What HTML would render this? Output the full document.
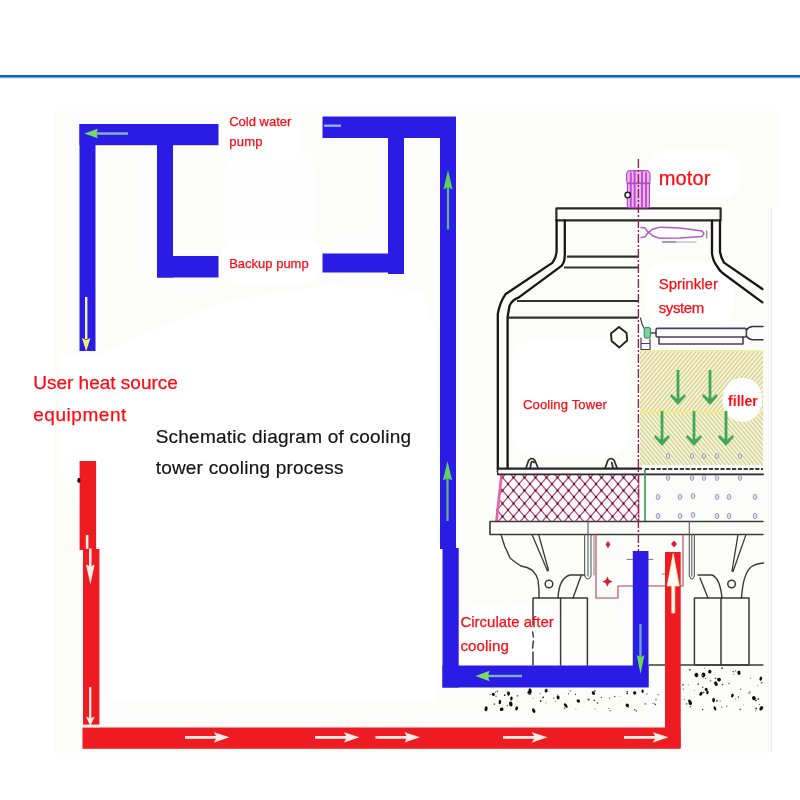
<!DOCTYPE html>
<html><head><meta charset="utf-8">
<style>
html,body{margin:0;padding:0;background:#fff;}
body{width:800px;height:800px;overflow:hidden;position:relative;font-family:"Liberation Sans",sans-serif;}
svg{position:absolute;left:0;top:0;}
.t{position:absolute;white-space:nowrap;font-family:"Liberation Sans",sans-serif;line-height:1;}
.r{color:#ff0a12;-webkit-text-stroke:0.25px #ff0a12;}
.k{color:#141414;-webkit-text-stroke:0.2px #141414;}
</style></head><body>
<svg width="800" height="800" viewBox="0 0 800 800">
<defs>
<pattern id="xh" width="11" height="13" patternUnits="userSpaceOnUse" x="508" y="484">
<rect width="11" height="13" fill="#fdf8fa"/>
<path d="M0,0 L11,13 M11,0 L0,13" stroke="#b04a74" stroke-width="1.15" fill="none"/>
<circle cx="5.5" cy="6.5" r="1.15" fill="#5a1230"/><circle cx="0" cy="0" r="1.15" fill="#5a1230"/><circle cx="11" cy="0" r="1.15" fill="#5a1230"/><circle cx="0" cy="13" r="1.15" fill="#5a1230"/><circle cx="11" cy="13" r="1.15" fill="#5a1230"/>
</pattern>
<pattern id="hy1" width="3.2" height="3.2" patternUnits="userSpaceOnUse" patternTransform="rotate(40)">
<rect width="3.2" height="3.2" fill="#faf8cc"/>
<rect width="1.3" height="3.2" fill="#d0cda0"/>
</pattern>
<pattern id="hy2" width="3.2" height="3.2" patternUnits="userSpaceOnUse" patternTransform="rotate(-40)">
<rect width="3.2" height="3.2" fill="#f9f8cf"/>
<rect width="1.3" height="3.2" fill="#cfcca6"/>
</pattern>
<filter id="b1"><feGaussianBlur stdDeviation="0.5"/></filter>
<filter id="b2"><feGaussianBlur stdDeviation="0.35"/></filter>
</defs>
<!-- BG -->
<rect x="54" y="111" width="725" height="97" fill="#fcfcfa"/>
<rect x="54" y="207" width="717.5" height="545.5" fill="#fcfcfa"/>
<rect x="770.8" y="207" width="1" height="545" fill="#e9e9e9"/>
<rect x="0" y="75" width="800" height="2.5" fill="#0a66c2"/>
<rect x="0" y="77.5" width="800" height="1" fill="#0a66c2" opacity="0.25"/>
<g fill="#ffffff" filter="url(#b1)">
<rect x="222" y="112" width="78" height="52" rx="14"/>
<rect x="222" y="238" width="98" height="46" rx="16"/>
<rect x="225" y="150" width="90" height="100" rx="20" opacity="0.7"/>
<path d="M60,356 L95,356 L140,335 L230,300 L330,285 L420,290 L436,330 L436,700 L110,700 L110,560 L60,470 Z" opacity="0.85"/>
<rect x="650" y="150" width="90" height="48" rx="18"/>
<rect x="646" y="262" width="88" height="62" rx="20"/>
<rect x="512" y="340" width="118" height="115" rx="22" opacity="0.9"/>
<rect x="458" y="606" width="104" height="58" rx="16"/>
</g>
<g id="tower" fill="none" stroke="#3a3a3a" stroke-width="1.5" stroke-linejoin="round" stroke-linecap="round" filter="url(#b2)">
<!-- yellow filler -->
<rect x="640" y="350.6" width="123" height="61" fill="url(#hy1)" stroke="none"/>
<rect x="640" y="411.6" width="123" height="53.4" fill="url(#hy2)" stroke="none"/>
<rect x="640" y="411" width="123" height="2" fill="#f1ee84" stroke="none"/>
<rect x="640" y="350.2" width="123" height="1.2" fill="#f1ee9a" stroke="none"/>
<path d="M741.5,378 C756,378 763,388 762,401 C762,414 752,422 742,422 C732,421 724,414 722.5,402 C722,388 730,378 741.5,378 Z" fill="#fff" stroke="none" filter="url(#b1)"/>
<!-- crosshatch -->
<polygon points="500.5,474.6 638.8,474.6 638.8,521.4 495,521.4" fill="url(#xh)" stroke="none"/>
<path d="M501.5,475 L496.5,521" stroke="#e660aa" stroke-width="2.6"/>
<path d="M638.8,475 L638.8,521" stroke="#c04070" stroke-width="1"/>
<!-- top cap -->
<rect x="556.4" y="208.4" width="164.2" height="12" fill="#fdfdfc" stroke="#2a2a2a" stroke-width="2.2"/>
<!-- left wall -->
<path d="M556.6,220.5 L556.6,252 Q556,258 552.6,262.6 L505.4,294.3 Q500,302 497.8,313.8 L497.8,469" stroke="#161616" stroke-width="2.3"/>
<path d="M564.8,220.5 L564.8,255.3 Q564.8,262 561.5,265.9 L518.5,297.6 Q512,300 509.5,305.7 L507.6,317 L507.6,468" stroke="#161616" stroke-width="2.3"/>
<!-- right wall -->
<path d="M712,221 L712,253.7 Q713,261 716.8,265.9 Q719,270 722.5,273 L762.4,302.4" stroke="#161616" stroke-width="2.3"/>
<path d="M720,221 L720,252 Q721,258 724,262.6 L762.4,289" stroke="#161616" stroke-width="2.3"/>
<!-- left horizontal bands -->
<path d="M567,256.6 L638,256.6 M564,267.5 L638,267.5 M517,301 L638,301 M508,317.6 L638,317.6" stroke="#333" stroke-width="2.1" stroke-linecap="butt"/>
<!-- hexagon -->
<path d="M619,327 L626.6,333 L627.2,340.5 L619.4,347.4 L611.6,341 L611,333.5 Z" stroke="#222" stroke-width="1.9"/>
<!-- lugs -->
<path d="M526,468 L528.6,460.5 Q531.8,456.5 535,460.5 L538,468 M530.2,468 L531.2,462.5 Q532.5,460.5 534,462.5" stroke="#2a2a2a" stroke-width="1.7"/>
<path d="M605.2,468 L607.8,460.5 Q611,456.5 614.2,460.5 L617,468 M613,468 L611.8,462.5" stroke="#2a2a2a" stroke-width="1.7"/>
<!-- shell bottom lines -->
<path d="M498,468.6 L641,468.6" stroke="#262626" stroke-width="2.4"/>
<path d="M498,468.6 Q496.6,471.5 498,474.4" stroke="#262626" stroke-width="1.6"/>
<path d="M645,469 L763,469" stroke-width="2.2" stroke-dasharray="4.2 1.6" stroke-linecap="butt"/>
<path d="M498,474.4 L763,474.4" stroke="#2a2a2a" stroke-width="1.9"/>
<!-- green line -->
<path d="M645,470 L645,521" stroke="#2f9a55" stroke-width="1.6"/>
<!-- base slab -->
<path d="M490,521.5 L763,521.5 M490,534.5 L763,534.5 M490,521.5 L490,534.5" stroke-width="1.6"/>
<!-- sprinkler pipe -->
<g stroke="#4e3c5c" stroke-width="1.6">
<rect x="656" y="328.4" width="90.4" height="8.6" rx="1.5"/>
<path d="M659,337 L659,344 L743,344 L743,337"/>
<path d="M651,333 L656,333"/>
<path d="M746.4,330 Q749,326.6 753,326.6 L763,326.6 M746.4,336 Q749,339.7 753,339.7 L763,339.7" stroke="#3a3040" stroke-width="1.5"/>
<path d="M640.5,318 L642,324 L644,328 M641,338 L641,349.5 L650,349.5 L650,339 M641,343.5 L650,343.5" stroke-width="1.2"/>
</g>
<rect x="644.2" y="327.6" width="6.4" height="10.4" rx="1.5" fill="#7fd09a" stroke="#2f8a50" stroke-width="1"/>
<!-- motor -->
<g stroke="#b44cc6" stroke-width="1.2">
<rect x="626.6" y="170.6" width="23.4" height="13.4" rx="4" fill="#ecb6f0"/>
<rect x="627.4" y="183" width="22" height="24.6" rx="1.5" fill="#ecb6f0"/>
<path d="M630.8,173 L630.8,207 M634.6,171.5 L634.6,207 M642,171.5 L642,207 M646,173 L646,207" stroke="#c04fd2" stroke-width="2"/>
<path d="M627,183.5 L650,183.5" stroke="#b44cc6" stroke-width="1.4"/>
</g>
<circle cx="627.7" cy="195" r="2.7" stroke="#222" stroke-width="1.5" fill="#fff"/>
<!-- fan blade -->
<g stroke="#b05cc0" stroke-width="1.4">
<path d="M641,227.5 L645,228 L648.5,233 L652,229.5 L660,227.2 L680,228 L702,231 L704,233.5 L702,236.5 L680,238 L660,238.3 L653,236 L648.5,232 L645,237 L641,237.5"/>
<path d="M662.5,242 L676,242" stroke="#8878a8"/>
<path d="M676,242 L696,242" stroke="#c8c0da"/>
<path d="M706.7,231 L706.7,238" stroke="#9c8cac"/>
</g>
<!-- center line -->
<path d="M638.4,159 L638.4,551" stroke="#8a2846" stroke-width="1.4" stroke-dasharray="9 2 2 2" stroke-linecap="butt"/>
<!-- drops inside filler bottom -->
<g stroke="#8f8fb0" stroke-width="0.9" fill="#ecece6">
<ellipse cx="668" cy="456" rx="1.6" ry="2.4"/><ellipse cx="692" cy="456" rx="1.6" ry="2.4"/><ellipse cx="704" cy="456" rx="1.6" ry="2.4"/><ellipse cx="717" cy="456" rx="1.6" ry="2.4"/><ellipse cx="740" cy="456" rx="1.6" ry="2.4"/>
</g>
<g stroke="#9a9abc" stroke-width="0.9" fill="#dcdcec">
<ellipse cx="668" cy="478" rx="1.7" ry="2.6"/><ellipse cx="692" cy="478" rx="1.7" ry="2.6"/><ellipse cx="704" cy="478" rx="1.7" ry="2.6"/><ellipse cx="717" cy="478" rx="1.7" ry="2.6"/><ellipse cx="740" cy="478" rx="1.7" ry="2.6"/>
<ellipse cx="658" cy="497" rx="1.8" ry="2.8"/><ellipse cx="680" cy="497" rx="1.8" ry="2.8"/><ellipse cx="693" cy="496" rx="1.8" ry="2.8"/><ellipse cx="717" cy="497" rx="1.8" ry="2.8"/><ellipse cx="729" cy="497" rx="1.8" ry="2.8"/><ellipse cx="755" cy="497" rx="1.8" ry="2.8"/>
<ellipse cx="658" cy="516" rx="1.8" ry="2.8"/><ellipse cx="680" cy="516" rx="1.8" ry="2.8"/><ellipse cx="693" cy="515" rx="1.8" ry="2.8"/><ellipse cx="717" cy="516" rx="1.8" ry="2.8"/><ellipse cx="729" cy="516" rx="1.8" ry="2.8"/><ellipse cx="755" cy="516" rx="1.8" ry="2.8"/>
</g>
<!-- left legs -->
<path d="M501,534.5 L503,541 L505,547 L507,551 L510,558 L515,562 L521,566 L527,567.5 L532,570 L536,575 L538,580 L539,590 L539,598" stroke-width="1.4"/>
<path d="M532,534.5 L547.5,571 L548.5,570 L538.6,534.5" stroke-width="1.3"/>
<circle cx="549" cy="584" r="3.8" stroke-width="1.5"/>
<path d="M558,598 Q559,578 570,575 L585,575 M573,598 L581,576" stroke-width="1.4"/>
<path d="M584.6,534.5 L584.6,576 Q587.8,582 591,576 L591,534.5 M588,521.5 L588,576" stroke="#55605f" stroke-width="1.1"/>
<path d="M533,625 L533,598 L587.4,598 L587.4,665.5 M533,665 L533,652 M532.6,632 L533.4,637 M533.4,641 L532.6,648" stroke-width="1.5"/>
<path d="M560.6,598 L560.6,665" stroke-width="1.5"/>
<!-- right legs -->
<path d="M689.3,521.5 L689.3,576 Q691.8,582 694.4,576 L694.4,534.5 M691.8,534.5 L691.8,576" stroke="#55605f" stroke-width="1.1"/>
<path d="M698,575 L712,575 Q720,578 722,598 M700,578 L708,598" stroke-width="1.4"/>
<path d="M738,534.6 L732,571 L733,571.5 L746,534.6" stroke-width="1.3"/>
<circle cx="731.6" cy="584" r="3.8" stroke-width="1.5"/>
<path d="M763.5,563 Q756,563.5 751,567 Q743,574 741.5,598" stroke-width="1.4"/>
<rect x="694.4" y="598" width="54.6" height="67" stroke-width="1.5"/>
<path d="M721,598 L721,665" stroke-width="1.5"/>
<path d="M649,665 L763,665" stroke-width="1.4"/>
<!-- thin red outline -->
<g stroke="#b04552" stroke-width="1.1">
<path d="M596,534.5 L596,598 L618,598 L618,586 L683,586 L683,534.5"/>
<path d="M594,534.5 L594,575" stroke="#7d6a70" stroke-width="0.9"/>
</g>
<g fill="#d81f30" stroke="none">
<path d="M608,541 L610.4,544.6 L608,548.2 L605.6,544.6 Z"/>
<path d="M607.4,576.4 L609,580 L612.6,581.6 L609,583.2 L607.4,586.8 L605.8,583.2 L602.2,581.6 L605.8,580 Z"/>
<path d="M674,540.5 L677,544 L674,547.5 L671,544 Z"/>
</g>
<path d="M627,559.4 L633,559.4 M648.5,559.4 L653,559.4 M662,574 L665,574" stroke="#777" stroke-width="1"/>
<g stroke="none"><circle cx="540.3" cy="693.2" r="0.5" fill="#333"/><circle cx="547.9" cy="691.2" r="0.5" fill="#555"/><circle cx="557.5" cy="695.1" r="0.5" fill="#333"/><circle cx="654.4" cy="703.2" r="0.5" fill="#555"/><circle cx="490.1" cy="694.6" r="0.6" fill="#555"/><circle cx="507.4" cy="692.5" r="0.9" fill="#666"/><ellipse cx="499.9" cy="702.0" rx="1.3" ry="2.3" transform="rotate(5 499.9 702.0)" fill="#111"/><circle cx="594.3" cy="700.4" r="0.9" fill="#555"/><circle cx="588.2" cy="699.5" r="0.9" fill="#666"/><circle cx="496.0" cy="696.3" r="0.7" fill="#555"/><ellipse cx="533.7" cy="710.6" rx="1.5" ry="2.4" transform="rotate(-28 533.7 710.6)" fill="#111"/><circle cx="570.5" cy="690.8" r="0.9" fill="#999"/><circle cx="543.2" cy="697.4" r="0.9" fill="#333"/><circle cx="634.7" cy="709.8" r="0.8" fill="#333"/><circle cx="614.8" cy="696.5" r="0.8" fill="#555"/><circle cx="533.1" cy="698.1" r="0.5" fill="#555"/><circle cx="546.0" cy="702.8" r="0.6" fill="#999"/><circle cx="504.7" cy="695.2" r="0.9" fill="#333"/><ellipse cx="511.4" cy="698.4" rx="1.3" ry="2.0" transform="rotate(4 511.4 698.4)" fill="#111"/><circle cx="610.3" cy="710.7" r="0.7" fill="#666"/><ellipse cx="508.6" cy="693.7" rx="1.4" ry="2.1" transform="rotate(7 508.6 693.7)" fill="#111"/><circle cx="529.1" cy="690.1" r="0.7" fill="#999"/><circle cx="655.4" cy="704.5" r="0.8" fill="#333"/><circle cx="564.6" cy="708.3" r="0.8" fill="#555"/><circle cx="553.8" cy="698.3" r="0.7" fill="#666"/><ellipse cx="493.3" cy="694.4" rx="1.5" ry="1.7" transform="rotate(-40 493.3 694.4)" fill="#111"/><circle cx="508.7" cy="692.1" r="0.5" fill="#666"/><ellipse cx="593.4" cy="693.1" rx="1.5" ry="2.0" transform="rotate(-30 593.4 693.1)" fill="#111"/><circle cx="636.4" cy="710.9" r="0.7" fill="#333"/><circle cx="507.4" cy="705.7" r="0.7" fill="#666"/><circle cx="575.5" cy="694.3" r="0.7" fill="#333"/><circle cx="619.7" cy="696.3" r="0.5" fill="#999"/><circle cx="575.9" cy="709.1" r="0.6" fill="#999"/><circle cx="597.5" cy="702.9" r="0.9" fill="#666"/><circle cx="628.5" cy="707.2" r="0.6" fill="#555"/><ellipse cx="546.1" cy="690.6" rx="1.4" ry="1.9" transform="rotate(15 546.1 690.6)" fill="#111"/><circle cx="656.0" cy="699.4" r="1.0" fill="#999"/><circle cx="495.7" cy="692.1" r="0.7" fill="#555"/><circle cx="595.2" cy="708.9" r="0.7" fill="#999"/><circle cx="627.3" cy="691.8" r="1.0" fill="#666"/><circle cx="568.5" cy="693.7" r="0.7" fill="#555"/><ellipse cx="565.8" cy="705.6" rx="1.3" ry="2.6" transform="rotate(-38 565.8 705.6)" fill="#111"/><circle cx="589.1" cy="699.8" r="0.8" fill="#555"/><circle cx="601.3" cy="697.4" r="0.6" fill="#333"/><ellipse cx="627.3" cy="705.3" rx="1.8" ry="1.7" transform="rotate(39 627.3 705.3)" fill="#111"/><ellipse cx="516.6" cy="708.4" rx="1.4" ry="2.1" transform="rotate(21 516.6 708.4)" fill="#111"/><circle cx="540.7" cy="701.4" r="0.5" fill="#999"/><circle cx="645.3" cy="703.9" r="0.8" fill="#666"/><ellipse cx="578.3" cy="701.0" rx="1.6" ry="1.8" transform="rotate(-40 578.3 701.0)" fill="#111"/><circle cx="627.2" cy="693.6" r="0.9" fill="#333"/><circle cx="540.7" cy="700.9" r="0.9" fill="#333"/><ellipse cx="642.6" cy="691.2" rx="1.2" ry="1.7" transform="rotate(-4 642.6 691.2)" fill="#111"/><ellipse cx="486.1" cy="708.8" rx="1.5" ry="2.6" transform="rotate(8 486.1 708.8)" fill="#111"/><circle cx="517.5" cy="695.8" r="0.9" fill="#666"/><circle cx="609.0" cy="708.4" r="0.6" fill="#666"/><ellipse cx="634.7" cy="692.9" rx="1.6" ry="1.7" transform="rotate(-21 634.7 692.9)" fill="#111"/><circle cx="494.4" cy="704.1" r="0.9" fill="#666"/><circle cx="652.9" cy="703.5" r="0.6" fill="#666"/><circle cx="658.1" cy="694.6" r="0.7" fill="#555"/><ellipse cx="510.8" cy="704.0" rx="1.8" ry="2.6" transform="rotate(-8 510.8 704.0)" fill="#111"/><ellipse cx="558.1" cy="697.5" rx="1.5" ry="1.9" transform="rotate(-3 558.1 697.5)" fill="#111"/><circle cx="609.7" cy="698.1" r="0.6" fill="#333"/><ellipse cx="501.7" cy="709.3" rx="1.9" ry="1.7" transform="rotate(-18 501.7 709.3)" fill="#111"/><circle cx="646.8" cy="693.8" r="0.9" fill="#999"/><circle cx="555.3" cy="701.3" r="0.7" fill="#999"/><circle cx="497.4" cy="691.2" r="0.7" fill="#333"/><ellipse cx="530.2" cy="690.4" rx="1.4" ry="2.2" transform="rotate(-22 530.2 690.4)" fill="#111"/><ellipse cx="529.4" cy="692.6" rx="2.0" ry="2.0" transform="rotate(33 529.4 692.6)" fill="#111"/><circle cx="594.8" cy="690.9" r="1.0" fill="#666"/><circle cx="528.9" cy="693.8" r="0.8" fill="#666"/><ellipse cx="706.2" cy="689.5" rx="1.5" ry="1.6" transform="rotate(-20 706.2 689.5)" fill="#111"/><circle cx="684.2" cy="699.5" r="0.6" fill="#555"/><circle cx="702.7" cy="687.2" r="0.8" fill="#555"/><circle cx="726.7" cy="706.2" r="0.7" fill="#666"/><circle cx="761.6" cy="682.7" r="0.9" fill="#666"/><ellipse cx="715.4" cy="682.9" rx="1.3" ry="1.7" transform="rotate(19 715.4 682.9)" fill="#111"/><ellipse cx="703.4" cy="675.0" rx="1.9" ry="2.5" transform="rotate(14 703.4 675.0)" fill="#111"/><circle cx="705.6" cy="678.4" r="0.7" fill="#666"/><circle cx="704.5" cy="668.2" r="0.7" fill="#999"/><circle cx="702.6" cy="709.5" r="0.7" fill="#333"/><ellipse cx="709.8" cy="671.6" rx="1.7" ry="1.8" transform="rotate(22 709.8 671.6)" fill="#111"/><ellipse cx="690.3" cy="703.1" rx="1.7" ry="2.0" transform="rotate(-16 690.3 703.1)" fill="#111"/><circle cx="733.4" cy="671.6" r="0.9" fill="#666"/><circle cx="735.6" cy="698.8" r="0.7" fill="#999"/><circle cx="740.7" cy="689.3" r="0.8" fill="#666"/><circle cx="686.5" cy="703.9" r="0.8" fill="#666"/><circle cx="755.8" cy="700.4" r="0.9" fill="#333"/><circle cx="749.1" cy="693.1" r="0.8" fill="#666"/><circle cx="689.8" cy="669.8" r="1.0" fill="#555"/><circle cx="749.9" cy="692.0" r="0.8" fill="#666"/><circle cx="722.1" cy="668.1" r="0.9" fill="#333"/><circle cx="735.7" cy="670.8" r="0.6" fill="#333"/><circle cx="750.7" cy="678.1" r="0.6" fill="#555"/><circle cx="722.5" cy="684.5" r="0.8" fill="#333"/><ellipse cx="732.4" cy="695.6" rx="1.3" ry="1.9" transform="rotate(19 732.4 695.6)" fill="#111"/><ellipse cx="707.4" cy="692.4" rx="1.2" ry="1.9" transform="rotate(14 707.4 692.4)" fill="#111"/><circle cx="738.4" cy="697.1" r="0.8" fill="#555"/><circle cx="720.3" cy="701.0" r="0.8" fill="#999"/><ellipse cx="761.3" cy="708.3" rx="1.6" ry="2.4" transform="rotate(37 761.3 708.3)" fill="#111"/><ellipse cx="719.0" cy="679.6" rx="2.0" ry="1.8" transform="rotate(7 719.0 679.6)" fill="#111"/><circle cx="694.3" cy="690.5" r="0.6" fill="#999"/><ellipse cx="753.9" cy="698.2" rx="1.9" ry="2.1" transform="rotate(-38 753.9 698.2)" fill="#111"/><circle cx="683.3" cy="689.1" r="0.7" fill="#666"/><ellipse cx="716.3" cy="684.2" rx="1.5" ry="1.9" transform="rotate(-13 716.3 684.2)" fill="#111"/><ellipse cx="714.9" cy="708.4" rx="1.2" ry="2.3" transform="rotate(-20 714.9 708.4)" fill="#111"/><circle cx="688.2" cy="684.8" r="0.5" fill="#555"/><circle cx="743.5" cy="704.7" r="0.5" fill="#999"/><circle cx="733.8" cy="674.4" r="0.7" fill="#999"/><circle cx="698.2" cy="684.1" r="0.9" fill="#555"/><circle cx="756.1" cy="708.5" r="0.9" fill="#333"/><circle cx="757.7" cy="685.7" r="0.6" fill="#999"/><circle cx="721.8" cy="707.2" r="0.6" fill="#555"/><circle cx="710.5" cy="680.8" r="1.0" fill="#999"/><circle cx="715.5" cy="678.3" r="0.8" fill="#333"/><ellipse cx="696.4" cy="675.0" rx="1.9" ry="2.1" transform="rotate(-22 696.4 675.0)" fill="#111"/><circle cx="755.5" cy="710.8" r="0.6" fill="#666"/><circle cx="702.5" cy="675.5" r="0.7" fill="#999"/><circle cx="703.7" cy="692.5" r="0.9" fill="#555"/><ellipse cx="713.6" cy="700.1" rx="1.4" ry="2.4" transform="rotate(-0 713.6 700.1)" fill="#111"/><circle cx="728.9" cy="683.5" r="0.8" fill="#666"/><circle cx="690.4" cy="706.6" r="0.8" fill="#555"/><circle cx="759.3" cy="704.5" r="0.5" fill="#333"/><circle cx="717.0" cy="700.8" r="1.0" fill="#555"/><circle cx="683.0" cy="684.8" r="0.9" fill="#555"/><ellipse cx="760.8" cy="678.7" rx="1.3" ry="2.1" transform="rotate(15 760.8 678.7)" fill="#111"/><circle cx="758.3" cy="699.0" r="0.9" fill="#555"/><ellipse cx="689.8" cy="701.4" rx="1.3" ry="2.2" transform="rotate(-37 689.8 701.4)" fill="#111"/><circle cx="740.2" cy="709.4" r="0.8" fill="#555"/><ellipse cx="738.9" cy="672.8" rx="1.6" ry="2.2" transform="rotate(-9 738.9 672.8)" fill="#111"/><ellipse cx="700.9" cy="693.8" rx="1.4" ry="2.1" transform="rotate(37 700.9 693.8)" fill="#111"/></g>
</g>
<!-- filler green arrows -->
<g fill="#3fa85c" filter="url(#b2)">
<path id="ga" d="M676.6,370 L679.4,370 L679.4,398.5 L684.5,394 L686,396 L678,405 L670,396 L671.5,394 L676.6,398.5 Z"/>
<use href="#ga" x="32"/>
<use href="#ga" x="-16" y="41"/>
<use href="#ga" x="16" y="41"/>
<use href="#ga" x="48" y="41"/>
</g>
<!-- BLUE PIPES -->
<g fill="#2a1ee4" filter="url(#b2)">
<rect x="79.5" y="124" width="16" height="227"/>
<rect x="79.5" y="124" width="139" height="21.2"/>
<rect x="157" y="124" width="16" height="153.5"/>
<rect x="157" y="256" width="61.5" height="21.5"/>
<rect x="322.5" y="116.5" width="133.5" height="21.5"/>
<rect x="388" y="117" width="16" height="157"/>
<rect x="322.5" y="253.5" width="81.5" height="19"/>
<rect x="440" y="117" width="16" height="432"/>
<rect x="442.5" y="548" width="16.2" height="139.5"/>
<rect x="442.5" y="665.5" width="206" height="22"/>
<rect x="632.8" y="551" width="15.7" height="136"/>
</g>
<!-- RED PIPES -->
<g fill="#ee1c24" filter="url(#b2)">
<rect x="79.6" y="461" width="16.5" height="89"/>
<rect x="83" y="549" width="16.4" height="199"/>
<rect x="82.5" y="727.5" width="598" height="21.3"/>
<rect x="665" y="552" width="15.7" height="196"/>
</g>
<ellipse cx="78.9" cy="480.3" rx="1.6" ry="2.6" fill="#1a1010"/>
<g filter="url(#b2)">
<!-- green left arrow top-left -->
<rect x="96" y="132.3" width="32" height="2.5" fill="#86b0c4"/>
<path d="M84.3,133.5 L97.8,128.8 L96.5,133.5 L97.8,138.2 Z" fill="#79da68"/>
<!-- small light dash at right-top pipe -->
<rect x="324" y="124.5" width="17" height="2.4" fill="#8fb4e8"/>
<!-- yellow down arrow left pipe -->
<rect x="85" y="297" width="2.4" height="42" fill="#f3f3d8"/>
<path d="M86.2,351.5 L82,338 L86.2,340 L90.4,338 Z" fill="#f1ec6a"/>
<!-- green up arrow right pipe top -->
<rect x="446.9" y="186" width="2.2" height="43.5" fill="#62b48e"/>
<path d="M448,170 L452.6,189.5 L448,187 L443.4,189.5 Z" fill="#5fd458"/>
<!-- green up arrow right pipe lower -->
<rect x="446.4" y="478" width="2.2" height="43" fill="#62b48e"/>
<path d="M447.5,461 L452.1,480.5 L447.5,478 L442.9,480.5 Z" fill="#5fd458"/>
<!-- green down arrow blue under tower -->
<rect x="639.3" y="624" width="2.3" height="34" fill="#6aa8c8"/>
<path d="M640.5,674 L636.8,655 L640.5,657.5 L644.4,655 Z" fill="#6ade50"/>
<!-- green left arrow bottom blue -->
<rect x="487.5" y="674.8" width="34.5" height="2.4" fill="#7fb0c4"/>
<path d="M475.5,676 L489.5,670.8 L488,676 L489.5,681.2 Z" fill="#79da68"/>
</g>
<g fill="#fbeee6" filter="url(#b2)">
<!-- white down arrow red (upper) -->
<rect x="85.8" y="535" width="2.6" height="13.8"/>
<rect x="89" y="548.5" width="2.5" height="18"/>
<path d="M86,564.5 L90.3,566.5 L94.6,564.5 L90.4,584.5 Z"/>
<!-- white down arrow red (lower) -->
<rect x="89.1" y="687" width="2.2" height="32"/>
<path d="M86,716.5 L90.3,718.5 L94.7,716.5 L90.3,726 Z"/>
<rect x="83" y="724.6" width="17" height="3" fill="#fff4f2"/>
<!-- right arrows bottom -->
<path id="ra" d="M185,735.9 L216,735.9 L214,732.2 L229.5,737.3 L214,742.4 L216,738.7 L185,738.7 Z"/>
<use href="#ra" x="130"/>
<use href="#ra" x="190.5"/>
<use href="#ra" x="318"/>
<use href="#ra" x="439"/>
</g>
<!-- up arrow in red pipe under tower -->
<g filter="url(#b2)">
<path d="M673.2,553.5 L679.3,586 L674.8,586 L674.8,613 L671.8,613 L671.8,586 L667.2,586 Z" fill="#fffdf4" stroke="#f6e3b4" stroke-width="0.8"/>
</g>
</svg>
<div class="t r" id="t1" style="left:229.2px;top:114.7px;font-size:13px;">Cold water</div>
<div class="t r" id="t2" style="left:229.2px;top:135px;font-size:13px;letter-spacing:0.27px;">pump</div>
<div class="t r" id="t3" style="left:229.2px;top:257.4px;font-size:13px;">Backup pump</div>
<div class="t r" id="t4" style="left:33.2px;top:372.7px;font-size:19px;">User heat source</div>
<div class="t r" id="t5" style="left:33.2px;top:404.7px;font-size:19px;letter-spacing:0.55px;">equipment</div>
<div class="t k" id="t6" style="left:155.7px;top:426.9px;font-size:19px;letter-spacing:0.23px;">Schematic diagram of cooling</div>
<div class="t k" id="t7" style="left:155.7px;top:458.4px;font-size:19px;letter-spacing:0.2px;">tower cooling process</div>
<div class="t r" id="t8" style="left:658.7px;top:168.1px;font-size:20px;letter-spacing:0.15px;">motor</div>
<div class="t r" id="t9" style="left:658.7px;top:276.3px;font-size:15px;">Sprinkler</div>
<div class="t r" id="t10" style="left:658.7px;top:299.8px;font-size:15px;letter-spacing:-0.4px;">system</div>
<div class="t r" id="t11" style="left:523px;top:398px;font-size:13px;letter-spacing:0.15px;">Cooling Tower</div>
<div class="t r" id="t12" style="left:728.1px;top:394px;font-size:14px;font-weight:bold;-webkit-text-stroke:0;">filler</div>
<div class="t r" id="t13" style="left:460.4px;top:614.3px;font-size:15px;">Circulate after</div>
<div class="t r" id="t14" style="left:460.4px;top:638.3px;font-size:15px;letter-spacing:0.15px;">cooling</div>
</body></html>
